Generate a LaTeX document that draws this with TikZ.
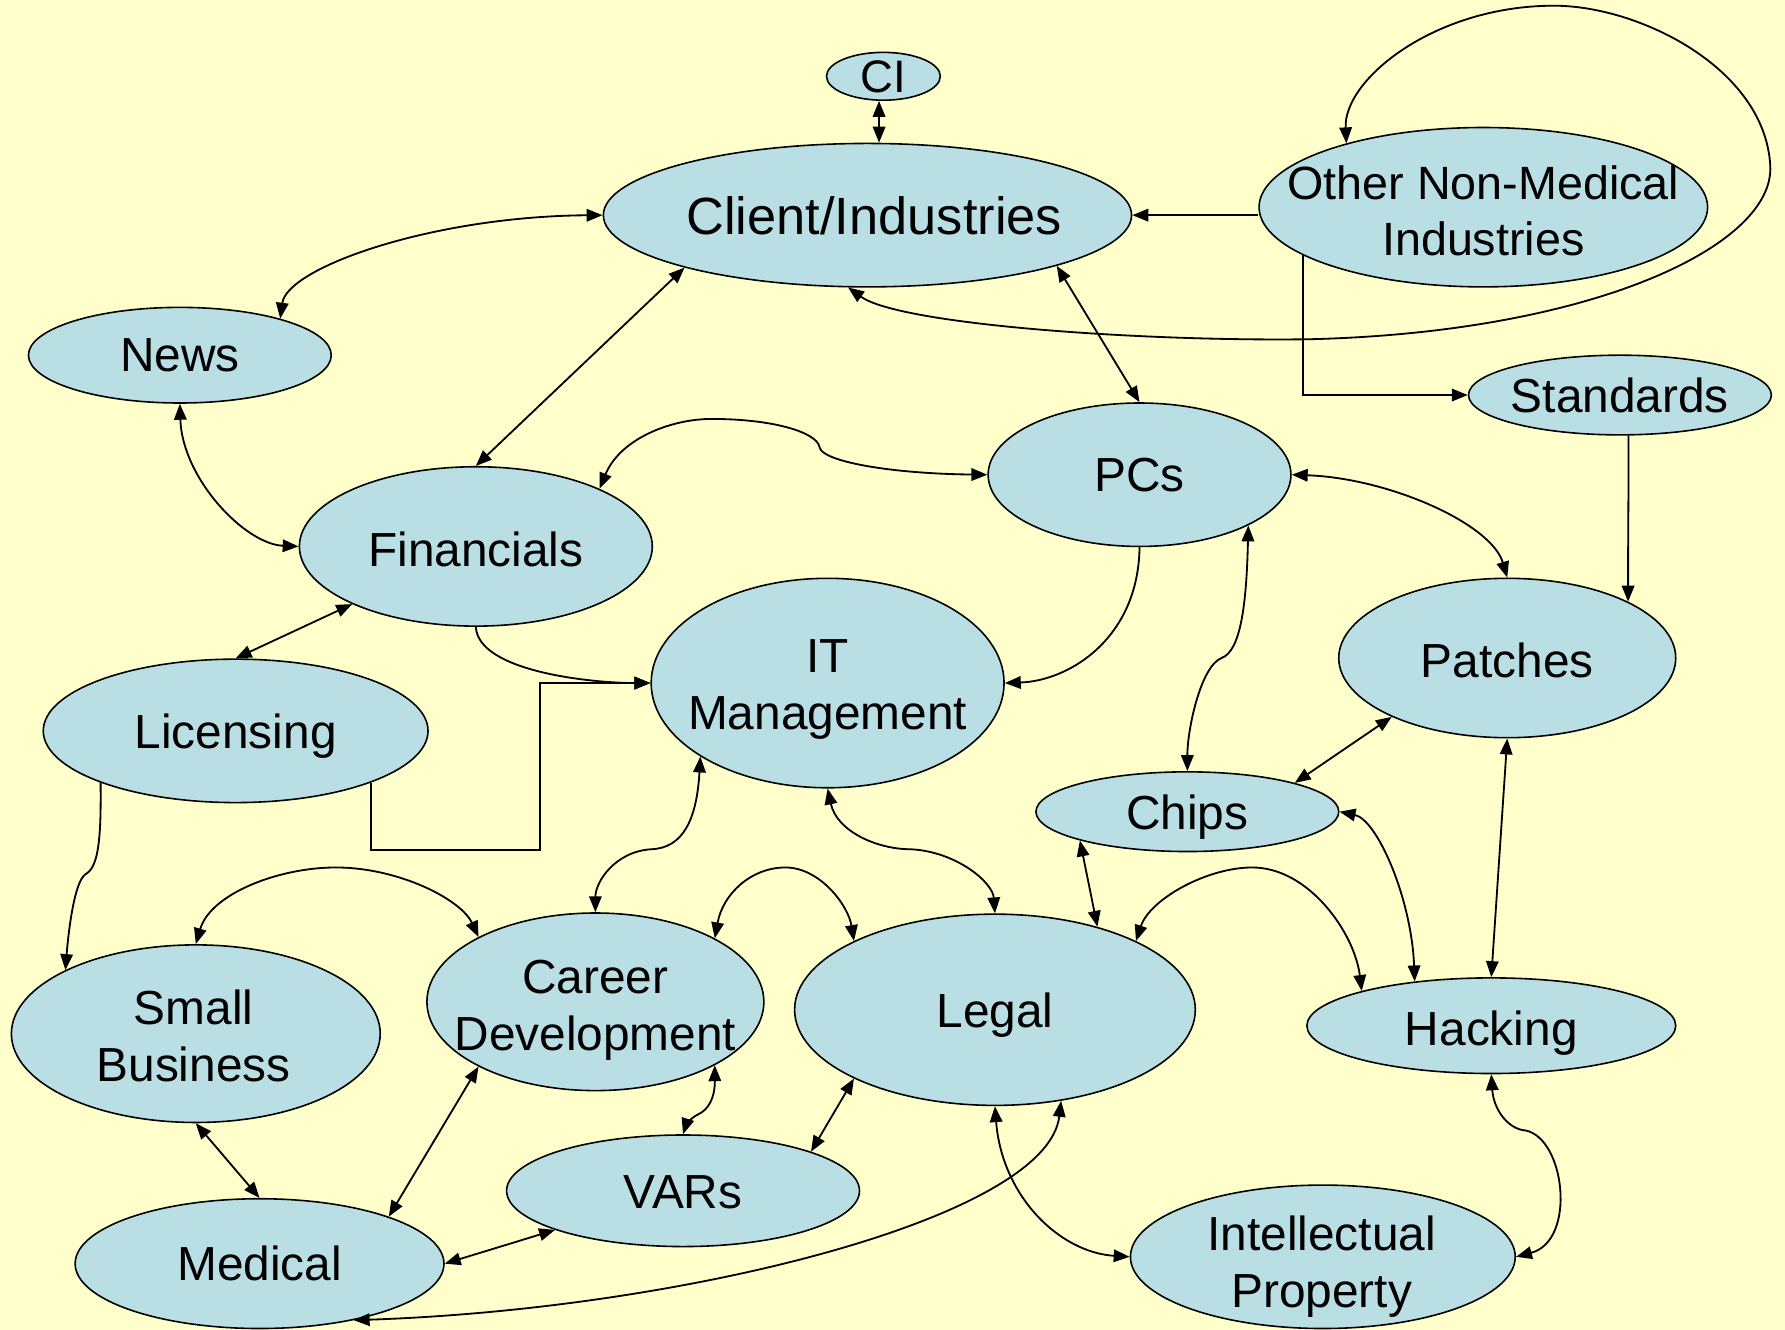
\documentclass[tikz,border=0pt]{standalone}
\usepackage{fontspec}
\setmainfont{Liberation Sans}
\usetikzlibrary{shapes.geometric,arrows.meta}
\definecolor{bg}{RGB}{255,255,204}
\definecolor{nodefill}{RGB}{185,223,228}
\begin{document}
\begin{tikzpicture}[x=1pt,y=-1pt,
  el/.style={ellipse, draw=black, line width=1.4pt, fill=nodefill, inner sep=0pt},
  lbl/.style={font=\fontsize{42}{50}\selectfont, align=center, inner sep=0pt, text depth=0pt},
  con/.style={line width=1.6pt, {Triangle[length=14pt,width=11pt]}-{Triangle[length=14pt,width=11pt]}},
  one/.style={line width=1.6pt, -{Triangle[length=14pt,width=11pt]}}]
\fill[bg] (0,0) rectangle (1568,1168);
\useasboundingbox (0,0) rectangle (1568,1168);

% nodes
\node[el, minimum width=100, minimum height=42] (ci) at (776,67) {};
\node[lbl, font=\fontsize{40}{46}\selectfont] at (ci) {CI};
\node[el, minimum width=464, minimum height=126] (client) at (762,189) {};
\node[lbl, font=\fontsize{46}{52}\selectfont] at (768,189) {Client/Industries};
\node[el, minimum width=394, minimum height=140] (other) at (1303,182) {};
\node[lbl, font=\fontsize{41}{50}\selectfont] at (1303,185) {Other Non-Medical\\Industries};
\node[el, minimum width=266, minimum height=84] (news) at (158,312) {};
\node[lbl] at (news) {News};
\node[el, minimum width=266, minimum height=70] (std) at (1423,347) {};
\node[lbl] at (std) {Standards};
\node[el, minimum width=266, minimum height=126] (pcs) at (1001,417) {};
\node[lbl] at (pcs) {PCs};
\node[el, minimum width=310, minimum height=140] (fin) at (418,480) {};
\node[lbl] at (418,482) {Financials};
\node[el, minimum width=310, minimum height=184] (itm) at (727,600) {};
\node[lbl] at (727,601) {IT\\Management};
\node[el, minimum width=296, minimum height=140] (patch) at (1324,578) {};
\node[lbl] at (1324,580) {Patches};
\node[el, minimum width=338, minimum height=126] (lic) at (207,642) {};
\node[lbl] at (lic) {Licensing};
\node[el, minimum width=266, minimum height=70] (chips) at (1043,713) {};
\node[lbl] at (chips) {Chips};
\node[el, minimum width=324, minimum height=156] (sb) at (172,908) {};
\node[lbl] at (170,910) {Small\\Business};
\node[el, minimum width=296, minimum height=156] (career) at (523,880) {};
\node[lbl] at (523,883) {Career\\Development};
\node[el, minimum width=352, minimum height=168] (legal) at (874,887) {};
\node[lbl] at (legal) {Legal};
\node[el, minimum width=324, minimum height=84] (hack) at (1310,901) {};
\node[lbl] at (1310,903) {Hacking};
\node[el, minimum width=310, minimum height=98] (vars) at (600,1046) {};
\node[lbl] at (600,1047) {VARs};
\node[el, minimum width=324, minimum height=114] (med) at (228,1110) {};
\node[lbl] at (med) {Medical};
\node[el, minimum width=338, minimum height=126] (ip) at (1162,1104) {};
\node[lbl] at (1161,1108) {Intellectual\\Property};

\coordinate (elbow) at (474,747);

% connectors
\draw[con] (ci.-100) -- (ci.-100 |- client.north);
\draw[one] (client.east -| other.west) -- (client.east);
\draw[con] (client.west) .. controls (380,190) and (252,235) .. (news.20);
\draw[con] (client.196) -- (fin.north);
\draw[con] (client.-15) -- (pcs.north);
\draw[con] (client.-105) .. controls (790,285) and (1000,300) .. (1150,298)
  .. controls (1400,292) and (1560,215) .. (1555,145)
  .. controls (1550,60) and (1440,5) .. (1365,5)
  .. controls (1260,5) and (1180,70) .. (other.155);
\draw[one] (other.-165) |- (std.west);
\draw[one] (std.-78) .. controls +(0,70) and +(0,-80) .. (patch.25);
\draw[con] (news.south) .. controls (160,420) and (215,478) .. (fin.west);
\draw[con] (fin.25) .. controls (545,385) and (590,368) .. (625,368)
  .. controls (680,368) and (718,380) .. (720,393)
  .. controls (722,405) and (780,416) .. (pcs.west);
\draw[con] (pcs.east) .. controls (1220,420) and (1310,460) .. (patch.north);
\draw[one] (pcs.south) .. controls (1000,560) and (940,598) .. (itm.east);
\draw[one] (fin.south) .. controls (420,590) and (520,600) .. (itm.west);
\draw[con] (fin.205) -- (lic.north);
\draw[one] (lic.-21) |- (elbow) |- (itm.west);
\draw[one] (lic.201) .. controls (89,740) and (86,762) .. (75,768)
  .. controls (65,775) and (60,820) .. (sb.154);
\draw[con] (pcs.-25) .. controls (1095,530) and (1090,572) .. (1073,578)
  .. controls (1055,585) and (1043,640) .. (chips.north);
\draw[con] (patch.207) -- (chips.15);
\draw[con] (patch.south) -- (hack.north);
\draw[con] (chips.195) -- (legal.39);
\draw[con] (chips.east) .. controls (1210,720) and (1240,790) .. (hack.150);
\draw[con] (itm.210) .. controls (612,720) and (600,745) .. (572,746)
  .. controls (540,748) and (523,775) .. (career.north);
\draw[con] (itm.south) .. controls (735,730) and (770,746) .. (800,746)
  .. controls (840,748) and (872,775) .. (legal.north);
\draw[con] (sb.north) .. controls (185,785) and (245,762) .. (295,762)
  .. controls (350,762) and (405,790) .. (career.151);
\draw[con] (career.28) .. controls (635,785) and (660,762) .. (690,762)
  .. controls (720,762) and (745,795) .. (legal.154);
\draw[con] (legal.26) .. controls (1010,790) and (1060,762) .. (1100,762)
  .. controls (1150,762) and (1190,820) .. (hack.165);
\draw[con] (sb.south) -- (med.north);
\draw[con] (career.209) -- (med.20);
\draw[con] (career.-28) .. controls (628,965) and (622,975) .. (613,979)
  .. controls (605,983) and (602,990) .. (vars.north);
\draw[con] (legal.206) -- (vars.17);
\draw[con] (med.east) -- (vars.197);
\draw[con] (med.-31) .. controls (600,1150) and (920,1070) .. (legal.-54);
\draw[con] (legal.south) .. controls (880,1050) and (930,1100) .. (ip.west);
\draw[con] (hack.south) .. controls (1312,975) and (1325,992) .. (1340,993)
  .. controls (1375,1000) and (1385,1090) .. (ip.east);
\end{tikzpicture}
\end{document}
